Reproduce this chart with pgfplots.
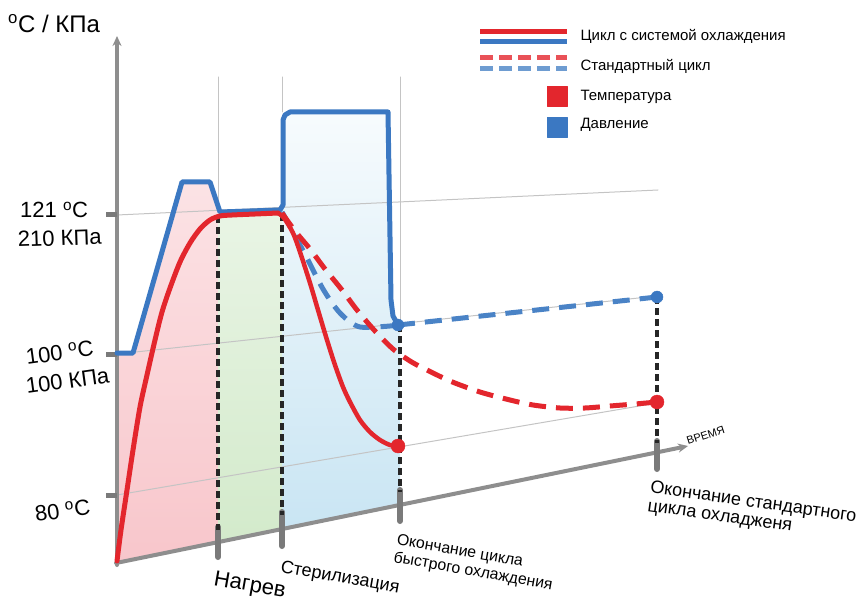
\documentclass[border=0pt]{standalone}
\usepackage{pgfplots}
\pgfplotsset{compat=1.18}
\usepackage{fontspec}
\setmainfont{Liberation Sans}
\usetikzlibrary{arrows.meta}

\definecolor{cRed}{HTML}{E3262D}
\definecolor{cBlue}{HTML}{3B78C2}
\definecolor{cBlueD}{HTML}{4A83C6}
\definecolor{cGray}{HTML}{8E8E8E}
\definecolor{cTick}{HTML}{7A7A7A}
\definecolor{cGrid}{HTML}{C4C4C4}
\definecolor{cPink}{HTML}{F8C6CB}
\definecolor{cGreen}{HTML}{D3EACB}
\definecolor{cSky}{HTML}{C9E5F3}
\definecolor{cDark}{HTML}{262626}

\newcommand{\fs}[1]{\fontsize{#1}{#1}\selectfont}

\begin{document}
\begin{tikzpicture}
% picture measured in pixels of the reference: 1pt = 1px
\begin{axis}[
  scale only axis, width=864pt, height=601pt,
  xmin=0, xmax=864, ymin=0, ymax=601, y dir=reverse,
  axis lines=none, xtick=\empty, ytick=\empty, clip=false,
  every axis plot/.append style={line join=round, line cap=round},
  dashed red/.style={cRed, line width=5pt, line cap=butt, dash pattern=on 17pt off 10pt},
  dashed blue/.style={cBlueD, line width=5pt, line cap=butt, dash pattern=on 17pt off 10pt},
  blackdash/.style={cDark, line width=4pt, line cap=butt, dash pattern=on 7pt off 4pt},
]

% shaded phases
\addplot[draw=none, top color=cPink!50, bottom color=cPink] coordinates {
  (117,563) (117,353) (133,353) (182,182) (210,182) (219,212) (219,543)};
\addplot[draw=none, top color=cGreen!50, bottom color=cGreen] coordinates {
  (218,212) (282,210) (282,530) (218,543)};
\addplot[draw=none, top color=cSky!15, bottom color=cSky] coordinates {
  (282,210) (283,120) (292,112) (388,112) (391,300) (394,318) (400,325) (400,506) (282,530)};

% grid (perspective)
\addplot[cGrid, line width=1pt] coordinates {(117,215) (658,190)};
\addplot[cGrid, line width=1pt] coordinates {(117,354) (657,296)};
\addplot[cGrid, line width=1pt] coordinates {(117,495) (657,403)};
\addplot[cGrid, line width=1pt] coordinates {(218,77) (218,212)};
\addplot[cGrid, line width=1pt] coordinates {(282,77) (282,112)};
\addplot[cGrid, line width=1pt] coordinates {(400,77) (400,325)};

% axes
\addplot[cGray, line width=4pt, -{Stealth[length=10pt,width=9pt]}] coordinates {(117,565) (117,36)};
\addplot[cGray, line width=4pt, -{Stealth[length=10pt,width=9pt]}] coordinates {(116,563) (688,446)};

% axis ticks
\addplot[cTick, line width=5pt, line cap=butt] coordinates {(106,215) (117,215)};
\addplot[cTick, line width=5pt, line cap=butt] coordinates {(106,354) (117,354)};
\addplot[cTick, line width=5pt, line cap=butt] coordinates {(106,495) (117,495)};
\addplot[cTick, line width=6pt] coordinates {(218,527) (218,557)};
\addplot[cTick, line width=6pt] coordinates {(282,512) (282,546)};
\addplot[cTick, line width=6pt] coordinates {(400,490) (400,521)};
\addplot[cTick, line width=6pt] coordinates {(657,441) (657,469)};

% phase boundaries
\addplot[blackdash] coordinates {(218,216) (218,530)};
\addplot[blackdash] coordinates {(282,214) (282,515)};
\addplot[blackdash] coordinates {(400,325) (400,492)};
\addplot[blackdash] coordinates {(657,297) (657,443)};

% standard cycle: pressure
\addplot[dashed blue, smooth] coordinates {
  (282,212) (292,230) (300,245) (307,258) (315,274) (323,289) (332,303)
  (340,313) (350,322) (360,327) (375,327) (390,326) (398,325)};
\addplot[dashed blue] coordinates {(398,325) (657,297)};

% standard cycle: temperature
\addplot[dashed red, smooth] coordinates {
  (282,213) (295,231) (310,249) (325,269) (342,290) (357,310) (375,331)
  (393,349) (410,361) (423,368) (450,381) (480,392) (510,400) (533,405)
  (560,408) (585,408) (610,406) (635,404) (657,402)};

% cooling system: pressure
\addplot[cBlue, line width=5pt] coordinates {
  (117,353) (133,353) (182,182) (210,182) (220,212) (280,210)
  (283,205) (283,120) (285,115) (290,112) (388,112) (391,300)
  (393,316) (398,325)};

% cooling system: temperature
\addplot[cRed, line width=5pt, smooth] coordinates {
  (117,561) (121,530) (127,490) (133,450) (140,407) (147,375) (155,340)
  (162,312) (170,288) (180,262) (190,243) (200,229) (210,220) (220,216)
  (232,215) (255,214) (278,213)};
\addplot[cRed, line width=4.5pt, smooth] coordinates {
  (278,213) (284,218) (293,233) (300,252) (310,283) (318,310) (327,340)
  (335,365) (343,387) (350,402) (360,420) (370,432) (380,440) (390,445) (398,446)};

% end points
\addplot[only marks, mark=*, mark size=7pt, cRed] coordinates {(398,446) (657,402)};
\addplot[only marks, mark=*, mark size=6pt, cBlue] coordinates {(398,325) (657,297)};

% legend
\addplot[cRed, line width=5pt, line cap=butt] coordinates {(480,32) (567,32)};
\addplot[cBlue, line width=5pt, line cap=butt] coordinates {(480,42) (567,42)};
\addplot[cRed!80, line width=5pt, line cap=butt, dash pattern=on 13pt off 6pt] coordinates {(480,58) (567,58)};
\addplot[cBlueD!80, line width=5pt, line cap=butt, dash pattern=on 13pt off 6pt] coordinates {(480,69) (567,69)};
\addplot[only marks, mark=square*, mark size=10pt, cRed] coordinates {(557,96)};
\addplot[only marks, mark=square*, mark size=10pt, cBlue] coordinates {(557,127)};

\node[anchor=base west, font=\fs{15}] at (axis cs:577,41) {Цикл с системой охлаждения};
\node[anchor=base west, font=\fs{15}] at (axis cs:577,71) {Стандартный цикл};
\node[anchor=base west, font=\fs{15}] at (axis cs:577,101) {Температура};
\node[anchor=base west, font=\fs{15}] at (axis cs:577,129) {Давление};

% axis texts
\node[anchor=base west, font=\fs{24}, inner sep=0pt] at (axis cs:8,33) {\textsuperscript{o}C / КПа};
\node[anchor=base west, font=\fs{22}, inner sep=0pt] at (axis cs:20,218) {121 \textsuperscript{o}C};
\node[anchor=base west, font=\fs{22}, inner sep=0pt, rotate=2] at (axis cs:18,247) {210 КПа};
\node[anchor=base west, font=\fs{22}, inner sep=0pt, rotate=8] at (axis cs:27,365) {100 \textsuperscript{o}C};
\node[anchor=base west, font=\fs{22}, inner sep=0pt, rotate=8] at (axis cs:27,394) {100 КПа};
\node[anchor=base west, font=\fs{22}, inner sep=0pt, rotate=8] at (axis cs:36,522) {80 \textsuperscript{o}C};

\node[anchor=base west, font=\fs{22}, inner sep=0pt, rotate=-10] at (axis cs:213,585) {Нагрев};
\node[anchor=base west, font=\fs{18}, inner sep=0pt, rotate=-10] at (axis cs:280,572) {Стерилизация};
\node[anchor=base west, font=\fontsize{15.8}{18}\selectfont, inner sep=0pt, align=left, rotate=-10]
  at (axis cs:393,562) {Окончание цикла\\быстрого охлаждения};
\node[anchor=base west, font=\fontsize{18}{18.5}\selectfont, inner sep=0pt, align=left, rotate=-8]
  at (axis cs:647,511) {Окончание стандартного\\цикла охладженя};
\node[anchor=base west, font=\fs{11}, inner sep=0pt, rotate=18] at (axis cs:688,445) {ВРЕМЯ};
\end{axis}
\pgfresetboundingbox
\path (current axis.south west) rectangle (current axis.north east);
\end{tikzpicture}
\end{document}
